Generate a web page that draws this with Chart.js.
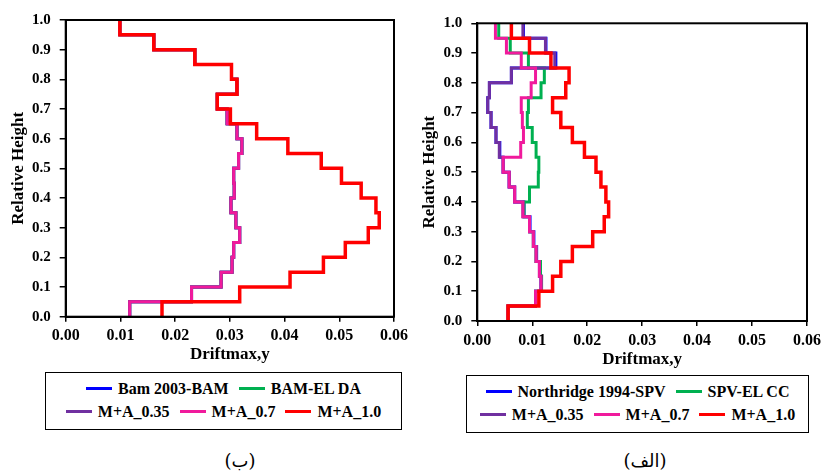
<!DOCTYPE html>
<html lang="en">
  <head>
    <meta charset="UTF-8" />
    <title>Drift profiles</title>
    <script src="https://cdn.jsdelivr.net/npm/chart.js@4.4.0/dist/chart.umd.min.js"></script>
    <style>
      body { margin: 0; background: #fff; width: 826px; height: 475px; position: relative; overflow: hidden;
             font-family: "Liberation Serif", "Times New Roman", Tinos, Times, serif; }
      canvas { position: absolute; top: 0; }
      .legend { position: absolute; border: 1px solid #000; box-sizing: border-box; font-weight: bold; font-size: 16px; }
      .row { display: flex; justify-content: center; align-items: center; height: 23px; }
      .row:first-child { margin-top: 4px; }
      .item { display: flex; align-items: center; margin: 0 5px; white-space: nowrap; }
      .item i { display: inline-block; width: 26px; height: 3.5px; margin-right: 6px; }
      .cap { position: absolute; width: 120px; text-align: center; font-size: 18px; top: 450px;
             font-family: "DejaVu Serif", "DejaVu Sans", serif; }
    </style>
  </head>
  <body>
    <canvas id="left-chart" width="413" height="370" style="left:0"></canvas>
    <canvas id="right-chart" width="413" height="370" style="left:413px"></canvas>

    <div class="legend" style="left:45px;top:372px;width:357px;height:58px">
      <div class="row">
        <span class="item"><i style="background:#0000ff"></i>Bam 2003-BAM</span>
        <span class="item"><i style="background:#00b050"></i>BAM-EL DA</span>
      </div>
      <div class="row">
        <span class="item"><i style="background:#7030a0"></i>M+A_0.35</span>
        <span class="item"><i style="background:#f01a9c"></i>M+A_0.7</span>
        <span class="item"><i style="background:#ff0000"></i>M+A_1.0</span>
      </div>
    </div>
    <div class="legend" style="left:466px;top:375px;width:343px;height:58px">
      <div class="row">
        <span class="item"><i style="background:#0000ff"></i>Northridge 1994-SPV</span>
        <span class="item"><i style="background:#00b050"></i>SPV-EL CC</span>
      </div>
      <div class="row">
        <span class="item"><i style="background:#7030a0"></i>M+A_0.35</span>
        <span class="item"><i style="background:#f01a9c"></i>M+A_0.7</span>
        <span class="item"><i style="background:#ff0000"></i>M+A_1.0</span>
      </div>
    </div>

    <div class="cap" style="left:180px">(ب)</div>
    <div class="cap" style="left:585px">(الف)</div>

    <script>
      // storey heights (bottom of each storey, last one is the roof)
      const heights = [0.00, 0.05, 0.10, 0.15, 0.20, 0.25, 0.30, 0.35, 0.40, 0.45, 0.50,
                       0.55, 0.60, 0.65, 0.70, 0.75, 0.80, 0.85, 0.90, 0.95, 1.00];

      // left panel - Bam 2003
      const bamBlue   = [0.0117, 0.0230, 0.0284, 0.0304, 0.0307, 0.0318, 0.0311, 0.0302, 0.0308, 0.0307, 0.0316,
                         0.0322, 0.0313, 0.0295, 0.0277, 0.0313, 0.0303, 0.0236, 0.0161, 0.0099, 0.0099];
      const bamGreen  = [0.0117, 0.0230, 0.0284, 0.0304, 0.0307, 0.0318, 0.0311, 0.0302, 0.0308, 0.0307, 0.0316,
                         0.0322, 0.0313, 0.0295, 0.0277, 0.0313, 0.0303, 0.0236, 0.0161, 0.0099, 0.0099];
      const bamMA035  = [0.0117, 0.0230, 0.0284, 0.0304, 0.0307, 0.0318, 0.0311, 0.0302, 0.0308, 0.0307, 0.0316,
                         0.0322, 0.0313, 0.0295, 0.0277, 0.0313, 0.0303, 0.0236, 0.0161, 0.0099, 0.0099];
      const bamMA07   = [0.0117, 0.0230, 0.0284, 0.0304, 0.0307, 0.0318, 0.0311, 0.0302, 0.0308, 0.0307, 0.0316,
                         0.0322, 0.0313, 0.0295, 0.0277, 0.0313, 0.0303, 0.0236, 0.0161, 0.0099, 0.0099];
      const bamMA10   = [0.0176, 0.0318, 0.0410, 0.0471, 0.0511, 0.0553, 0.0573, 0.0567, 0.0540, 0.0504, 0.0467,
                         0.0406, 0.0349, 0.0301, 0.0277, 0.0313, 0.0303, 0.0236, 0.0161, 0.0099, 0.0099];

      // right panel - Northridge 1994
      const spvBlue   = [0.0056, 0.0106, 0.0116, 0.0114, 0.0108, 0.0103, 0.0096, 0.0085, 0.0068, 0.0058, 0.0047,
                         0.0041, 0.0034, 0.0025, 0.0019, 0.0022, 0.0062, 0.0143, 0.0125, 0.0084, 0.0084];
      const spvGreen  = [0.0056, 0.0106, 0.0117, 0.0115, 0.0107, 0.0102, 0.0095, 0.0085, 0.0095, 0.0111, 0.0112,
                         0.0107, 0.0100, 0.0091, 0.0093, 0.0116, 0.0122, 0.0093, 0.0060, 0.0039, 0.0039];
      const spvMA035  = [0.0056, 0.0106, 0.0116, 0.0113, 0.0107, 0.0102, 0.0095, 0.0083, 0.0068, 0.0058, 0.0047,
                         0.0040, 0.0034, 0.0025, 0.0019, 0.0022, 0.0062, 0.0141, 0.0124, 0.0083, 0.0083];
      const spvMA07   = [0.0056, 0.0106, 0.0116, 0.0113, 0.0107, 0.0102, 0.0095, 0.0083, 0.0068, 0.0058, 0.0047,
                         0.0079, 0.0084, 0.0082, 0.0080, 0.0098, 0.0106, 0.0080, 0.0053, 0.0033, 0.0033];
      const spvMA10   = [0.0056, 0.0112, 0.0137, 0.0152, 0.0173, 0.0210, 0.0231, 0.0239, 0.0234, 0.0225, 0.0216,
                         0.0195, 0.0173, 0.0152, 0.0137, 0.0161, 0.0167, 0.0134, 0.0095, 0.0062, 0.0062];

      const colors = { blue: "#0000ff", green: "#00b050", purple: "#7030a0", pink: "#f01a9c", red: "#ff0000" };
      const FONT = "'Liberation Serif', 'Times New Roman', Tinos, Times, serif";

      function profile(values) {
        return values.map((v, i) => ({ x: v, y: heights[i] }));
      }

      function line(label, values, color, width) {
        return {
          label,
          data: profile(values),
          borderColor: color,
          backgroundColor: color,
          borderWidth: width,
          stepped: "after",
          pointRadius: 0,
          fill: false,
        };
      }

      // box around the plot area
      const frame = {
        id: "frame",
        afterDraw(chart) {
          const { ctx, chartArea: a } = chart;
          ctx.save();
          ctx.strokeStyle = "#000";
          ctx.lineWidth = 2;
          ctx.strokeRect(a.left, a.top, a.right - a.left, a.bottom - a.top);
          ctx.restore();
        },
      };

      function makeChart(id, sets, cfg) {
        return new Chart(document.getElementById(id), {
          type: "line",
          data: { datasets: sets },
          options: {
            responsive: false,
            animation: false,
            layout: { padding: cfg.padding },
            plugins: { legend: { display: false }, tooltip: { enabled: false } },
            scales: {
              x: {
                type: "linear",
                min: 0,
                max: 0.06,
                afterFit: (s) => { s.height = cfg.xHeight; },
                ticks: {
                  stepSize: 0.01,
                  padding: 5,
                  color: "#000",
                  font: { family: FONT, size: 16, weight: "bold" },
                  callback: (v) => v.toFixed(2),
                },
                grid: { drawOnChartArea: false, tickLength: 5, color: "#000", lineWidth: 1.5 },
                border: { color: "#000", width: 2 },
                title: {
                  display: true,
                  text: "Driftmax,y",
                  color: "#000",
                  padding: { top: 0, bottom: cfg.xTitlePad },
                  font: { family: FONT, size: 17, weight: "bold" },
                },
              },
              y: {
                type: "linear",
                min: 0,
                max: 1,
                afterFit: (s) => { s.width = cfg.yWidth; },
                ticks: {
                  stepSize: 0.1,
                  padding: 9,
                  color: "#000",
                  font: { family: FONT, size: 15, weight: "bold" },
                  callback: (v) => v.toFixed(1),
                },
                grid: { drawOnChartArea: false, tickLength: 6, color: "#000", lineWidth: 1.5 },
                border: { color: "#000", width: 2 },
                title: {
                  display: true,
                  text: "Relative Height",
                  color: "#000",
                  padding: { top: cfg.yTitlePad, bottom: 0 },
                  font: { family: FONT, size: 17, weight: "bold" },
                },
              },
            },
          },
          plugins: [frame],
        });
      }

      // red first so it lands on top
      makeChart("left-chart", [
        line("M+A_1.0", bamMA10, colors.red, 3.5),
        line("M+A_0.7", bamMA07, colors.pink, 3),
        line("M+A_0.35", bamMA035, colors.purple, 3),
        line("BAM-EL DA", bamGreen, colors.green, 3),
        line("Bam 2003-BAM", bamBlue, colors.blue, 3),
      ], { padding: { top: 20, right: 14.7, left: 0, bottom: 0 }, xHeight: 53.3, yWidth: 65.7, xTitlePad: 4.8, yTitlePad: 8.8 });

      makeChart("right-chart", [
        line("M+A_1.0", spvMA10, colors.red, 3.5),
        line("M+A_0.7", spvMA07, colors.pink, 3),
        line("M+A_0.35", spvMA035, colors.purple, 3),
        line("SPV-EL CC", spvGreen, colors.green, 3),
        line("Northridge 1994-SPV", spvBlue, colors.blue, 3),
      ], { padding: { top: 23.3, right: 16.7, left: 0, bottom: 0 }, xHeight: 49, yWidth: 64.3, xTitlePad: 0, yTitlePad: 6.8 });
    </script>
  </body>
</html>
